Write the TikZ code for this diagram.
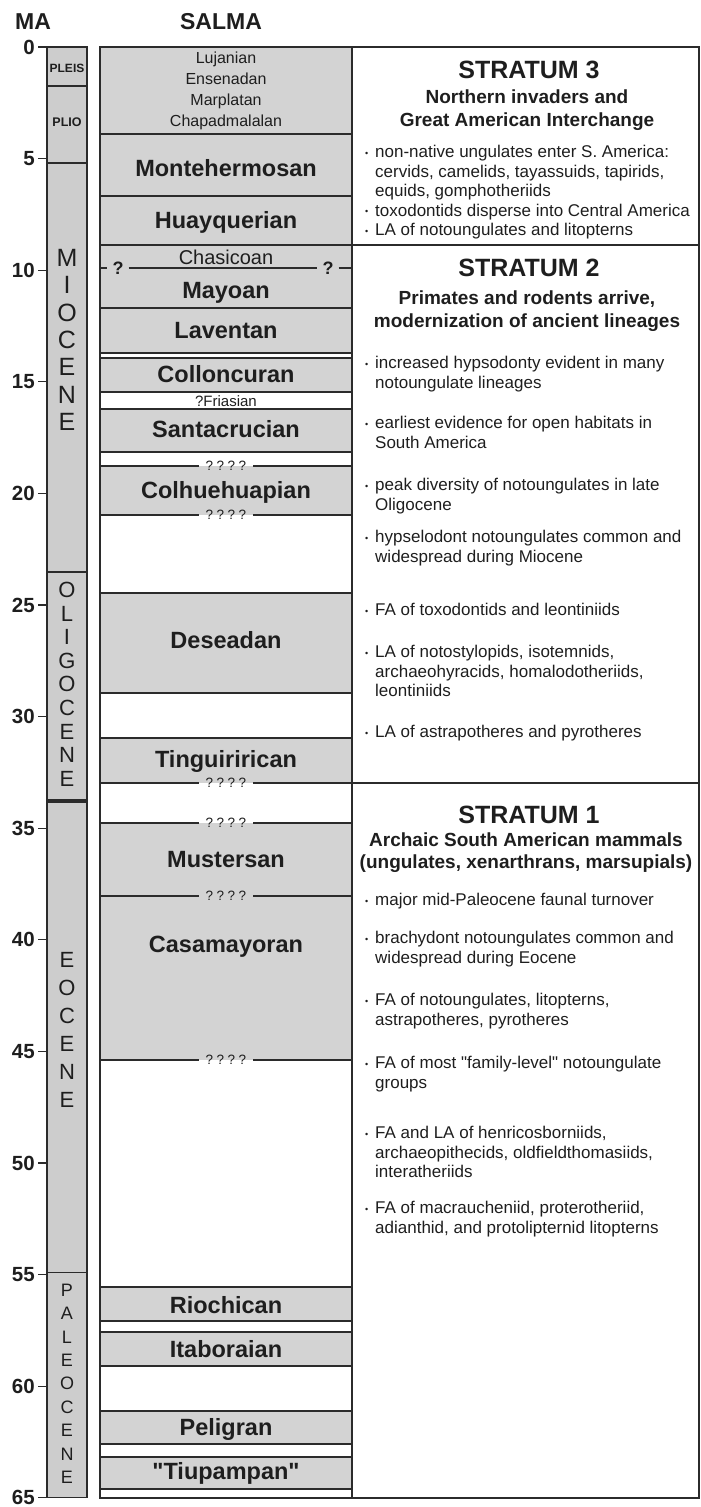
\documentclass[tikz,border=0pt]{standalone}
\usepackage{fontspec}
\setmainfont{Liberation Sans}[Ligatures=TeXOff]
\definecolor{salmagray}{HTML}{D3D3D3}
\definecolor{epochgray}{HTML}{CDCDCD}
\definecolor{inkline}{HTML}{2B2B2B}
\definecolor{inktext}{HTML}{1E1E1E}
\newcommand\bitem{\makebox[10pt][l]{\fontsize{9}{9}\selectfont\raisebox{1.5pt}{•}}}
\newcommand\bcont{\hspace*{10pt}}

\begin{document}
\begin{tikzpicture}[x=1pt,y=-1pt,
  head/.style={text=inktext,inner sep=0pt,font=\fontsize{23}{26}\selectfont\bfseries},
  ticklab/.style={text=inktext,anchor=east,inner sep=0pt,font=\fontsize{20.5}{21}\selectfont\bfseries},
  tickline/.style={inkline,line width=1.2pt},
  epochbox/.style={draw=inkline,fill=epochgray,line width=1.3pt},
  epochlet/.style={text=inktext,inner sep=0pt},
  salmaline/.style={inkline,line width=1.4pt},
  stratline/.style={inkline,line width=2pt},
  salmaname/.style={text=inktext,inner sep=0pt,text height=17pt,text depth=5pt,font=\fontsize{23.5}{25}\selectfont\bfseries},
  query/.style={text=inktext,inner xsep=7pt,inner ysep=0pt,font=\fontsize{13.5}{13.5}\selectfont},
  qmark/.style={text=inktext,inner xsep=5pt,inner ysep=0pt,font=\fontsize{18}{18}\selectfont\bfseries},
  stitle/.style={text=inktext,inner sep=0pt,font=\fontsize{25}{28}\selectfont\bfseries},
  ssub/.style={text=inktext,inner sep=0pt,align=center,font=\fontsize{19}{22.5}\selectfont\bfseries},
  bul/.style={text=inktext,anchor=north west,inner sep=0pt,align=left,font=\fontsize{17}{19.5}\selectfont}]
  \useasboundingbox (0,0) rectangle (701,1507);

  % column heads
  \node[head] (mahead) at (33,22) {MA};
  \node[head] (salmahead) at (221,22) {SALMA};

  % time scale, y in MA
  \begin{scope}[yshift=-47pt,y=-22.32pt]
    \foreach \top/\bot in {0/1.75,1.75/5.2,5.2/23.52,23.52/33.74,33.83/54.9,54.9/65}
      \draw[epochbox] (47,\top) rectangle (87,\bot);

    \foreach \m in {0,5,...,65} {
      \draw[tickline] (38,\m) -- (47,\m);
      \node[ticklab] (tk\m) at (35,\m) {\m};
    }

    % SALMA shading
    \foreach \top/\bot in {0/3.9,3.9/6.68,6.68/8.87,8.87/11.69,11.69/13.71,13.93/15.46,
        16.22/18.15,18.77/20.97,24.46/28.94,30.96/32.97,34.77/38.04,38.04/45.38,
        55.56/57.08,57.57/59.09,61.11/62.59,63.17/64.61}
      \fill[salmagray] (100,\top) rectangle (352,\bot);

    \foreach \m in {3.9,6.68,11.69,13.71,13.93,15.46,16.22,18.15,24.46,28.94,30.96,
        55.56,57.08,57.57,59.09,61.11,62.59,63.17,64.61}
      \draw[salmaline] (100,\m) -- (352,\m);

    % uncertain boundaries
    \foreach \m [count=\i] in {18.77,20.97,32.97,34.77,38.04,45.38} {
      \node[query] (q\i) at (226,\m) {?\kern3.5pt?\kern3.5pt?\kern3.5pt?};
      \draw[salmaline] (100,\m) -- (q\i.west);
      \draw[salmaline] (q\i.east) -- (352,\m);
    }
    \node[qmark] (cq1) at (118,9.9) {?};
    \node[qmark] (cq2) at (328,9.9) {?};
    \draw[salmaline] (100,9.9) -- (cq1.west);
    \draw[salmaline] (cq1.east) -- (cq2.west);
    \draw[salmaline] (cq2.east) -- (352,9.9);

    % strata boundaries
    \draw[salmaline] (100,8.87) -- (352,8.87);
    \draw[stratline] (352,8.87) -- (699,8.87);
    \draw[stratline] (352,32.97) -- (699,32.97);

    \draw[salmaline] (100,0) rectangle (352,65);
    \draw[stratline] (352,0) rectangle (699,65);

    % SALMA names
    \node[text=inktext,inner sep=0pt,align=center,font=\fontsize{16}{21}\selectfont]
      (young) at (226,1.98) {Lujanian\\Ensenadan\\Marplatan\\Chapadmalalan};
    \node[text=inktext,inner sep=0pt,font=\fontsize{20}{22}\selectfont] (chas) at (226,9.41) {Chasicoan};
    \node[text=inktext,inner sep=0pt,font=\fontsize{15}{16}\selectfont] (frias) at (226,15.86) {?Friasian};
    \foreach \name/\m [count=\i] in {Montehermosan/5.55,Huayquerian/7.85,Mayoan/11.0,
        Laventan/12.8,Colloncuran/14.75,Santacrucian/17.22,Colhuehuapian/19.95,
        Deseadan/26.7,Tinguirirican/32.0,Mustersan/36.47,Casamayoran/40.28,
        Riochican/56.48,Itaboraian/58.45,Peligran/61.93,{"Tiupampan"}/63.93}
      \node[salmaname] (sal\i) at (226,\m) {\name};
  \end{scope}

  % epochs
  \node[epochlet,font=\fontsize{12}{12}\selectfont\bfseries] (pleis) at (67,68) {PLEIS};
  \node[epochlet,font=\fontsize{12.5}{12.5}\selectfont\bfseries] (plio) at (67,122) {PLIO};
  \foreach \ch [count=\i] in {M,I,O,C,E,N,E}
    \node[epochlet,font=\fontsize{25}{25}\selectfont] (mio\i) at (67,{258+27.3*(\i-1)}) {\ch};
  \foreach \ch [count=\i] in {O,L,I,G,O,C,E,N,E}
    \node[epochlet,font=\fontsize{22}{22}\selectfont] (oli\i) at (67,{590+23.6*(\i-1)}) {\ch};
  \foreach \ch [count=\i] in {E,O,C,E,N,E}
    \node[epochlet,font=\fontsize{22}{22}\selectfont] (eoc\i) at (67,{960+28*(\i-1)}) {\ch};
  \foreach \ch [count=\i] in {P,A,L,E,O,C,E,N,E}
    \node[epochlet,font=\fontsize{18}{18}\selectfont] (pal\i) at (67,{1290+23.4*(\i-1)}) {\ch};

  % stratum 3
  \node[stitle] (s3) at (529,70) {STRATUM 3};
  \node[ssub] (s3sub) at (527,110) {Northern invaders and\\Great American Interchange};
  \node[bul] (s3a) at (365,145) {\bitem non-native ungulates enter S. America:\\
    \bcont cervids, camelids, tayassuids, tapirids,\\\bcont equids, gomphotheriids};
  \node[bul] (s3b) at (365,203.5) {\bitem toxodontids disperse into Central America};
  \node[bul] (s3c) at (365,223) {\bitem LA of notoungulates and litopterns};

  % stratum 2
  \node[stitle] (s2) at (529,268) {STRATUM 2};
  \node[ssub] (s2sub) at (527,311) {Primates and rodents arrive,\\modernization of ancient lineages};
  \node[bul] (s2a) at (365,356) {\bitem increased hypsodonty evident in many\\\bcont notoungulate lineages};
  \node[bul] (s2b) at (365,416) {\bitem earliest evidence for open habitats in\\\bcont South America};
  \node[bul] (s2c) at (365,478) {\bitem peak diversity of notoungulates in late\\\bcont Oligocene};
  \node[bul] (s2d) at (365,530) {\bitem hypselodont notoungulates common and\\\bcont widespread during Miocene};
  \node[bul] (s2e) at (365,603) {\bitem FA of toxodontids and leontiniids};
  \node[bul] (s2f) at (365,645) {\bitem LA of notostylopids, isotemnids,\\
    \bcont archaeohyracids, homalodotheriids,\\\bcont leontiniids};
  \node[bul] (s2g) at (365,725) {\bitem LA of astrapotheres and pyrotheres};

  % stratum 1
  \node[stitle] (s1) at (529,815) {STRATUM 1};
  \node[ssub] (s1sub) at (526,852.5) {Archaic South American mammals\\(ungulates, xenarthrans, marsupials)};
  \node[bul] (s1a) at (365,893) {\bitem major mid-Paleocene faunal turnover};
  \node[bul] (s1b) at (365,931) {\bitem brachydont notoungulates common and\\\bcont widespread during Eocene};
  \node[bul] (s1c) at (365,993) {\bitem FA of notoungulates, litopterns,\\\bcont astrapotheres, pyrotheres};
  \node[bul] (s1d) at (365,1056) {\bitem FA of most "family-level" notoungulate\\\bcont groups};
  \node[bul] (s1e) at (365,1126) {\bitem FA and LA of henricosborniids,\\
    \bcont archaeopithecids, oldfieldthomasiids,\\\bcont interatheriids};
  \node[bul] (s1f) at (365,1201) {\bitem FA of macraucheniid, proterotheriid,\\
    \bcont adianthid, and protolipternid litopterns};
\end{tikzpicture}
\end{document}
